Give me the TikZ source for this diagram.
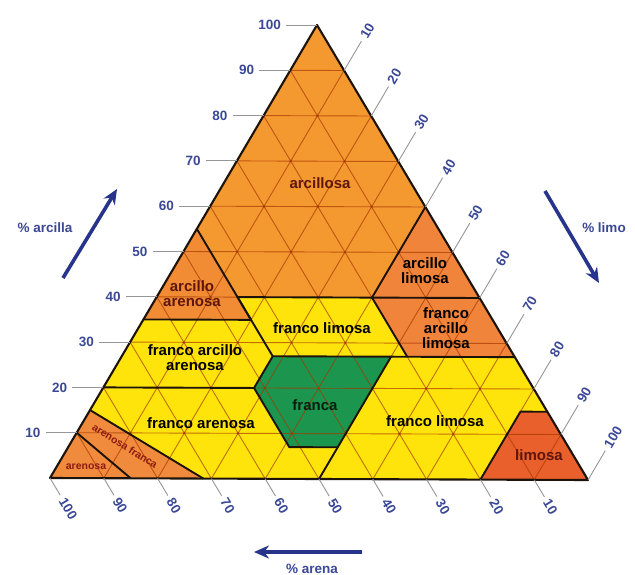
\documentclass[tikz,border=0pt]{standalone}
\usepackage{fontspec}
\setmainfont{Liberation Sans}
\usetikzlibrary{arrows.meta,calc}
\definecolor{orA}{RGB}{244,152,48}
\definecolor{orB}{RGB}{241,140,52}
\definecolor{orC}{RGB}{240,132,58}
\definecolor{orS}{RGB}{240,138,60}
\definecolor{redS}{RGB}{234,96,44}
\definecolor{yel}{RGB}{255,228,12}
\definecolor{grn}{RGB}{28,150,78}
\definecolor{gridc}{RGB}{165,55,0}
\definecolor{numblue}{RGB}{58,72,150}
\definecolor{arrblue}{RGB}{40,52,140}
\definecolor{maroon}{RGB}{95,22,12}
\definecolor{redtxt}{RGB}{140,28,18}
\definecolor{tickgray}{RGB}{150,150,150}
\newcommand\tern[4]{\coordinate (#1) at (barycentric cs:Sa=#2,Si=#3,Cl=#4);}
\tikzset{
  region/.style={draw=black!85!brown,line width=1.9pt,line join=round},
  gridline/.style={draw=gridc,opacity=.68,line width=.9pt},
  tickline/.style={draw=tickgray,line width=.9pt},
  num/.style={text=numblue,font=\bfseries\fontsize{13.5}{13.5}\selectfont,inner sep=0pt},
  reg/.style={font=\bfseries\fontsize{15}{15}\selectfont,align=center,inner sep=0pt},
  smallreg/.style={font=\bfseries\fontsize{10.5}{10.5}\selectfont,inner sep=0pt,text=redtxt},
  axarrow/.style={draw=arrblue,line width=3.6pt,-{Stealth[length=15pt,width=13pt]}},
  axtext/.style={text=numblue,font=\bfseries\fontsize{13.5}{13.5}\selectfont,inner sep=0pt}
}
\begin{document}
\begin{tikzpicture}[x=1pt,y=-1pt]
\fill[white] (0,0) rectangle (635,575);
\useasboundingbox (0,0) rectangle (635,575);
\coordinate (Sa) at (50,478);
\coordinate (Si) at (588,480);
\coordinate (Cl) at (317,25);
% key points (sand, silt, clay) as fractions
\tern{l55}{.45}{0}{.55}
\tern{c1}{.45}{.15}{.40}
\tern{c2}{.20}{.40}{.40}
\tern{r40}{0}{.60}{.40}
\tern{r60}{0}{.40}{.60}
\tern{l35}{.65}{0}{.35}
\tern{c3}{.45}{.20}{.35}
\tern{c4}{.20}{.53}{.27}
\tern{c5}{.45}{.28}{.27}
\tern{r27}{0}{.73}{.27}
\tern{c6}{.52}{.28}{.20}
\tern{l20}{.80}{0}{.20}
\tern{c7}{.23}{.50}{.27}
\tern{c8}{.43}{.50}{.07}
\tern{c9}{.52}{.41}{.07}
\tern{r15}{0}{.85}{.15}
\tern{c10}{.05}{.80}{.15}
\tern{b20}{.20}{.80}{0}
\tern{b50}{.50}{.50}{0}
\tern{b71}{.715}{.285}{0}
\tern{l15}{.85}{0}{.15}
\tern{b85}{.85}{.15}{0}
\tern{l10}{.90}{0}{.10}
% fills
\fill[orA] (Cl) -- (l55) -- (c1) -- (c2) -- (r40) -- (r60) -- cycle;
\fill[orB] (l55) -- (l35) -- (c3) -- (c1) -- cycle;
\fill[orC] (c2) -- (r40) -- (r60) -- cycle;
\fill[yel] (c1) -- (c2) -- (c4) -- (c5) -- cycle;
\fill[orC] (c2) -- (r40) -- (r27) -- (c4) -- cycle;
\fill[yel] (l35) -- (c3) -- (c5) -- (c6) -- (l20) -- cycle;
\fill[grn] (c5) -- (c7) -- (c8) -- (c9) -- (c6) -- cycle;
\fill[yel] (c7) -- (r27) -- (r15) -- (c10) -- (b20) -- (b50) -- (c8) -- cycle;
\fill[redS] (c10) -- (r15) -- (Si) -- (b20) -- cycle;
\fill[yel] (l20) -- (c6) -- (c9) -- (c8) -- (b50) -- (b71) -- (l15) -- cycle;
\fill[orS] (l15) -- (b71) -- (b85) -- (l10) -- cycle;
\fill[orS] (l10) -- (b85) -- (Sa) -- cycle;
% grid
\foreach \k in {1,...,9}{
  \pgfmathsetmacro\kf{\k/10}
  \pgfmathsetmacro\rf{1-\k/10}
  \draw[gridline] (barycentric cs:Sa=\rf,Si=0,Cl=\kf) -- (barycentric cs:Sa=0,Si=\rf,Cl=\kf);
  \draw[gridline] (barycentric cs:Sa=\kf,Si=\rf,Cl=0) -- (barycentric cs:Sa=\kf,Si=0,Cl=\rf);
  \draw[gridline] (barycentric cs:Sa=\rf,Si=\kf,Cl=0) -- (barycentric cs:Sa=0,Si=\kf,Cl=\rf);
}
\foreach \a in {1,...,8}{
  \foreach \b in {1,...,8}{
    \pgfmathtruncatemacro\cc{10-\a-\b}
    \ifnum\cc>0
      \pgfmathsetmacro\af{\a/10}
      \pgfmathsetmacro\bf{\b/10}
      \pgfmathsetmacro\cf{\cc/10}
      \fill[gridc,opacity=.7] (barycentric cs:Sa=\af,Si=\bf,Cl=\cf) circle (1.4);
    \fi
  }
}
% region borders
\draw[region] (l55) -- (c1) -- (c2) -- (r40);
\draw[region] (c2) -- (r60);
\draw[region] (l35) -- (c3) -- (c1);
\draw[region] (c2) -- (c4) -- (r27);
\draw[region] (c3) -- (c5) -- (c1);
\draw[region] (l20) -- (c6);
\draw[region] (c5) -- (c7) -- (c8) -- (c9) -- (c6) -- cycle;
\draw[region] (c4) -- (c7);
\draw[region] (c8) -- (b50);
\draw[region] (r15) -- (c10) -- (b20);
\draw[region] (l15) -- (b71);
\draw[region] (l10) -- (b85);
\draw[draw=black!85!brown,line width=2.1pt,line join=round] (Sa) -- (Si) -- (Cl) -- cycle;
% axes ticks and numbers
\foreach \k in {10,20,...,100}{
  \pgfmathsetmacro\kf{\k/100}
  \pgfmathsetmacro\rf{1-\k/100}
  \coordinate (L\k) at (barycentric cs:Sa=\rf,Si=0,Cl=\kf);
  \draw[tickline] (L\k) -- ++(-31,0);
  \node[num,anchor=east] (nl\k) at ($(L\k)+(-36,0)$) {\k};
  \coordinate (R\k) at (barycentric cs:Sa=0,Si=\kf,Cl=\rf);
  \draw[tickline] (R\k) -- ++(0.508*34,-0.8615*34);
  \node[num,anchor=west,rotate=59.5] (nr\k) at ($(R\k)+(0.508*38,-0.8615*38)$) {\k};
  \coordinate (B\k) at (barycentric cs:Sa=\kf,Si=\rf,Cl=0);
  \draw[tickline] (B\k) -- ++(0.5117*20,0.8591*20);
  \node[num,anchor=west,rotate=-59.2] (nb\k) at ($(B\k)+(0.5117*24,0.8591*24)$) {\k};
}
% region labels
\node[reg,text=maroon] (tarcillosa) at (320,183) {arcillosa};
\node[reg,text=maroon] (tarcare) at (192,294) {arcillo\\arenosa};
\node[reg,text=black] (tarclim) at (425,271) {arcillo\\limosa};
\node[reg,text=black] (tfl1) at (322,328) {franco limosa};
\node[reg,text=black] (tfal) at (446,328) {franco\\arcillo\\limosa};
\node[reg,text=black] (tfaa) at (195,358) {franco arcillo\\arenosa};
\node[reg,text=black!80!grn] (tfranca) at (315,405) {franca};
\node[reg,text=black] (tfar) at (201,423) {franco arenosa};
\node[reg,text=black] (tfl2) at (435,421) {franco limosa};
\node[reg,text=maroon] (tlimosa) at (539,455) {limosa};
\node[smallreg,rotate=-32] (tarfr) at (125,446) {arenosa franca};
\node[smallreg] (tarenosa) at (86,467) {arenosa};
% axis titles and arrows
\node[axtext] (tcl) at (45,228) {\% arcilla};
\coordinate (aclA) at (63,278);
\coordinate (aclB) at (117,189);
\draw[axarrow] (aclA) -- (aclB);
\node[axtext] (tli) at (604,228) {\% limo};
\coordinate (aliA) at (545,191);
\coordinate (aliB) at (599,283);
\draw[axarrow] (aliA) -- (aliB);
\node[axtext] (tar) at (312,569) {\% arena};
\coordinate (aarA) at (362,552);
\coordinate (aarB) at (254,552);
\draw[axarrow] (aarA) -- (aarB);
\end{tikzpicture}
\end{document}
